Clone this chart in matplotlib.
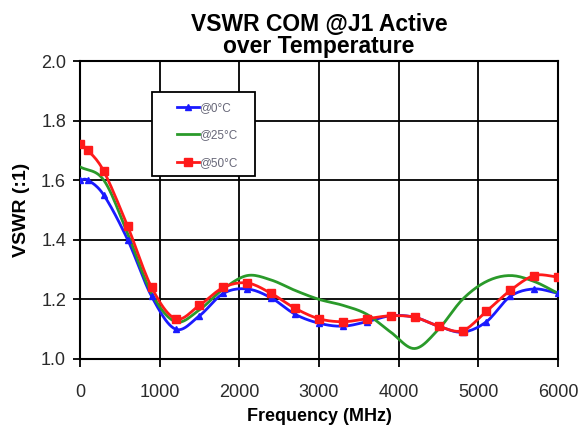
import matplotlib
matplotlib.use('Agg')
import matplotlib.pyplot as plt
from matplotlib.patches import Rectangle
import numpy as np

plt.rcParams['font.family'] = ['Liberation Sans', 'DejaVu Sans']

# Measured points (frequency in MHz, VSWR)
freq = [0, 100, 300, 600, 900, 1200, 1500, 1800, 2100, 2400, 2700, 3000,
        3300, 3600, 3900, 4200, 4500, 4800, 5100, 5400, 5700, 6000]
vswr_0c = [1.60, 1.60, 1.55, 1.40, 1.21, 1.10, 1.145, 1.22, 1.235, 1.205, 1.15, 1.12,
           1.11, 1.125, 1.145, 1.14, 1.11, 1.09, 1.125, 1.21, 1.235, 1.22]
vswr_50c = [1.72, 1.70, 1.63, 1.445, 1.24, 1.135, 1.18, 1.24, 1.255, 1.22, 1.17, 1.135,
            1.125, 1.135, 1.145, 1.14, 1.11, 1.095, 1.16, 1.23, 1.28, 1.275]
freq_25c = [0, 300, 600, 900, 1200, 1500, 1800, 2100, 2400, 2700, 3000, 3300,
            3600, 3900, 4200, 4500, 4800, 5100, 5400, 5700, 6000]
vswr_25c = [1.645, 1.60, 1.42, 1.22, 1.125, 1.165, 1.235, 1.28, 1.265, 1.23, 1.20, 1.18,
            1.15, 1.09, 1.035, 1.10, 1.20, 1.26, 1.28, 1.26, 1.22]


def smooth(x, y, n=12):
    # Catmull-Rom curve through the points, like a spreadsheet "smoothed line"
    x = np.asarray(x, float)
    y = np.asarray(y, float)
    px = np.concatenate([[2 * x[0] - x[1]], x, [2 * x[-1] - x[-2]]])
    py = np.concatenate([[2 * y[0] - y[1]], y, [2 * y[-1] - y[-2]]])
    xs, ys = [], []
    t = np.linspace(0, 1, n, endpoint=False)
    for i in range(1, len(px) - 2):
        for p, out in ((px, xs), (py, ys)):
            p0, p1, p2, p3 = p[i - 1], p[i], p[i + 1], p[i + 2]
            out.extend(0.5 * (2 * p1 + (-p0 + p2) * t
                              + (2 * p0 - 5 * p1 + 4 * p2 - p3) * t ** 2
                              + (-p0 + 3 * p1 - 3 * p2 + p3) * t ** 3))
    xs.append(x[-1])
    ys.append(y[-1])
    return np.array(xs), np.array(ys)


fig = plt.figure(figsize=(5.79, 4.33), dpi=100)
ax = fig.add_axes([0.138, 0.171, 0.826, 0.688])

sx, sy = smooth(freq, vswr_0c)
ax.plot(sx, sy, color='#1a1aff', lw=2, zorder=3)
ax.plot(freq, vswr_0c, ls='none', marker='^', ms=5, color='#1a1aff', zorder=4)
line0, = ax.plot([], [], color='#1a1aff', lw=2, marker='^', ms=5, label='@0°C')

sx, sy = smooth(freq_25c, vswr_25c)
line25, = ax.plot(sx, sy, color='#2a9a2a', lw=2, zorder=3, label='@25°C')

sx, sy = smooth(freq, vswr_50c)
ax.plot(sx, sy, color='#ff1a1a', lw=2, zorder=3)
ax.plot(freq, vswr_50c, ls='none', marker='s', ms=5.5, color='#ff1a1a', zorder=4)
line50, = ax.plot([], [], color='#ff1a1a', lw=2, marker='s', ms=5.5, label='@50°C')

ax.set_xlim(0, 6000)
ax.set_ylim(1.0, 2.0)
ax.set_xticks(np.arange(0, 6001, 1000))
ax.set_yticks(np.arange(1.0, 2.01, 0.2))
ax.set_yticklabels(['1.0', '1.2', '1.4', '1.6', '1.8', '2.0'])
ax.grid(True, color='black', lw=1.3)
ax.set_axisbelow(True)
for s in ax.spines.values():
    s.set_color('black')
    s.set_linewidth(1.5)
ax.tick_params(direction='out', width=1.3, labelsize=13,
               colors='black', labelcolor='#2a2a2a')
ax.tick_params(axis='x', length=6, pad=12)
ax.tick_params(axis='y', length=5, pad=5)

ax.set_xlabel('Frequency (MHz)', fontsize=13, fontweight='bold', labelpad=5)
ax.set_ylabel('VSWR (:1)', fontsize=14, fontweight='bold', labelpad=8)
ax.set_title('VSWR COM @J1 Active\nover Temperature', fontsize=16.5,
             fontweight='bold', linespacing=0.95, pad=6)

# legend box drawn separately so its padding matches the original
ax.add_patch(Rectangle((0.151, 0.614), 0.215, 0.282, transform=ax.transAxes,
                       facecolor='white', edgecolor='black', lw=1.3, zorder=5))
leg = ax.legend(handles=[line0, line25, line50], loc='upper left',
                bbox_to_anchor=(0.202, 0.862), fontsize=8.5, frameon=False,
                labelspacing=1.3, handlelength=1.9, handletextpad=0.05,
                borderpad=0, borderaxespad=0)
leg.set_zorder(6)
for t in leg.get_texts():
    t.set_color('#666677')

fig.savefig('out.png', dpi=100)
